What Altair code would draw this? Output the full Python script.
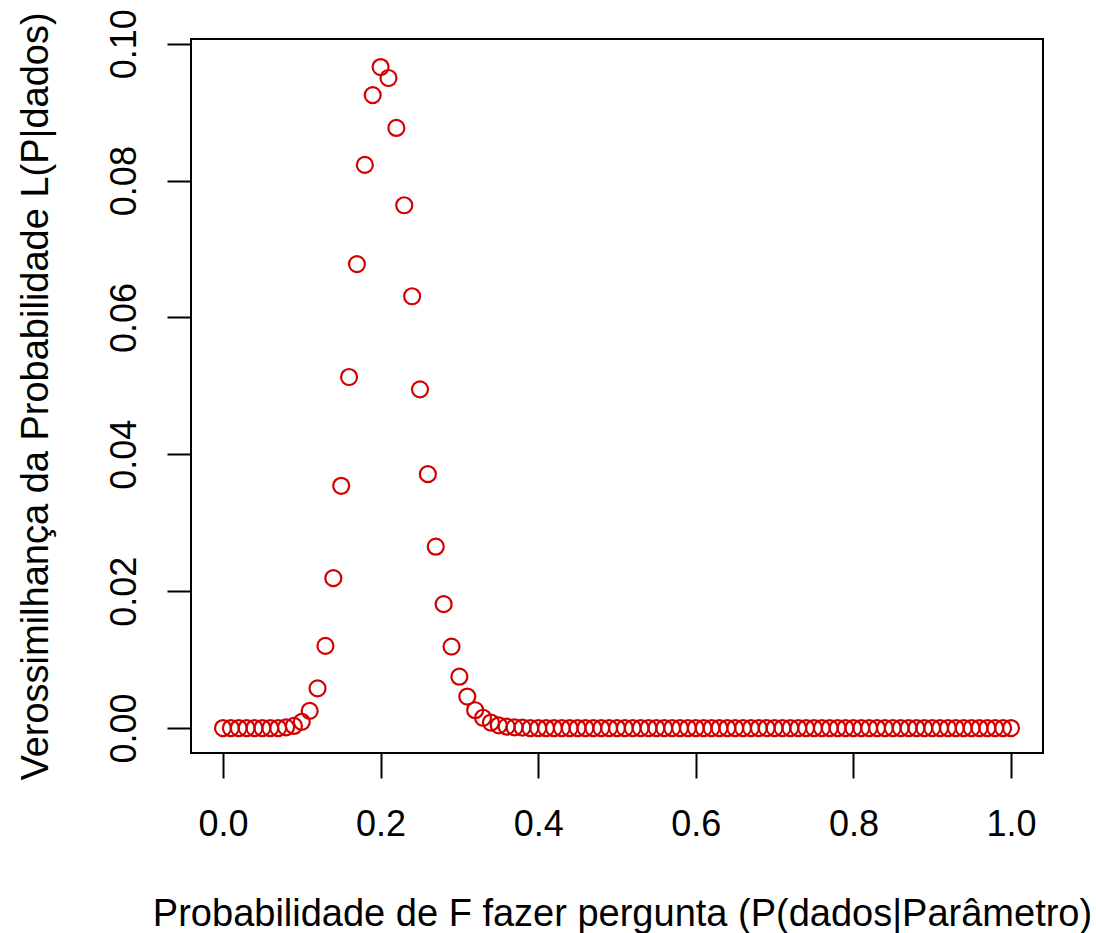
import altair as alt
import pandas as pd

# Parameter grid (x) and likelihood values (y)
p_values = [
    0.00, 0.01, 0.02, 0.03, 0.04, 0.05, 0.06, 0.07, 0.08, 0.09,
    0.10, 0.11, 0.12, 0.13, 0.14, 0.15, 0.16, 0.17, 0.18, 0.19,
    0.20, 0.21, 0.22, 0.23, 0.24, 0.25, 0.26, 0.27, 0.28, 0.29,
    0.30, 0.31, 0.32, 0.33, 0.34, 0.35, 0.36, 0.37, 0.38, 0.39,
    0.40, 0.41, 0.42, 0.43, 0.44, 0.45, 0.46, 0.47, 0.48, 0.49,
    0.50, 0.51, 0.52, 0.53, 0.54, 0.55, 0.56, 0.57, 0.58, 0.59,
    0.60, 0.61, 0.62, 0.63, 0.64, 0.65, 0.66, 0.67, 0.68, 0.69,
    0.70, 0.71, 0.72, 0.73, 0.74, 0.75, 0.76, 0.77, 0.78, 0.79,
    0.80, 0.81, 0.82, 0.83, 0.84, 0.85, 0.86, 0.87, 0.88, 0.89,
    0.90, 0.91, 0.92, 0.93, 0.94, 0.95, 0.96, 0.97, 0.98, 0.99,
    1.00,
]
likelihood = [
    0.0, 0.0, 0.0, 0.0, 0.0, 0.0, 0.0, 0.0, 0.0001, 0.0003,
    0.0009, 0.0025, 0.0058, 0.0120, 0.0219, 0.0354, 0.0513, 0.0678, 0.0823, 0.0925,
    0.0966, 0.0950, 0.0877, 0.0764, 0.0631, 0.0495, 0.0371, 0.0265, 0.0181, 0.0119,
    0.0075, 0.0046, 0.0026, 0.0015, 0.0008, 0.0004, 0.0002, 0.0001, 0.00005, 0.0,
    0.0, 0.0, 0.0, 0.0, 0.0, 0.0, 0.0, 0.0, 0.0, 0.0,
    0.0, 0.0, 0.0, 0.0, 0.0, 0.0, 0.0, 0.0, 0.0, 0.0,
    0.0, 0.0, 0.0, 0.0, 0.0, 0.0, 0.0, 0.0, 0.0, 0.0,
    0.0, 0.0, 0.0, 0.0, 0.0, 0.0, 0.0, 0.0, 0.0, 0.0,
    0.0, 0.0, 0.0, 0.0, 0.0, 0.0, 0.0, 0.0, 0.0, 0.0,
    0.0, 0.0, 0.0, 0.0, 0.0, 0.0, 0.0, 0.0, 0.0, 0.0,
    0.0,
]
x_ticks = [0.0, 0.2, 0.4, 0.6, 0.8, 1.0]
y_ticks = [0.00, 0.02, 0.04, 0.06, 0.08, 0.10]

x_title = "Probabilidade de F fazer pergunta (P(dados|Parâmetro)"
y_title = "Verossimilhança da Probabilidade L(P|dados)"

df = pd.DataFrame({"p": p_values, "L": likelihood})

FONT = "Liberation Sans"
W, H = 852, 714

chart = (
    alt.Chart(df)
    .mark_point(shape="circle", filled=False, color="#d40000", size=256, strokeWidth=2.2, opacity=1)
    .encode(
        x=alt.X(
            "p:Q",
            scale=alt.Scale(domain=[-0.0406, 1.0406], nice=False, zero=False),
            axis=alt.Axis(
                values=x_ticks,
                format=".1f",
                title=x_title,
                grid=False,
                domain=False,
                ticks=True,
                tickSize=25,
                tickWidth=2,
                tickColor="black",
                labelFont=FONT,
                labelFontSize=36,
                labelColor="black",
                labelPadding=29,
                labelBaseline="top",
                labelFlush=False,
                labelOverlap=False,
                titleFont=FONT,
                titleFontSize=38,
                titleFontWeight="normal",
                titleColor="black",
                titleBaseline="alphabetic",
                titleAlign="center",
                titleX=W / 2 + 5,
                titleY=172,
            ),
        ),
        y=alt.Y(
            "L:Q",
            scale=alt.Scale(domain=[-0.00365, 0.1007], nice=False, zero=False),
            axis=alt.Axis(
                values=y_ticks,
                format=".2f",
                title=y_title,
                grid=False,
                domain=False,
                ticks=True,
                tickSize=24,
                tickWidth=2,
                tickColor="black",
                labelFont=FONT,
                labelFontSize=36,
                labelColor="black",
                labelAngle=270,
                labelAlign="center",
                labelBaseline="bottom",
                labelPadding=24,
                labelFlush=False,
                labelOverlap=False,
                titleFont=FONT,
                titleFontSize=38,
                titleFontWeight="normal",
                titleColor="black",
                titleAngle=270,
                titleAlign="center",
                titleBaseline="alphabetic",
                titleX=-144,
                titleY=H / 2,
            ),
        ),
    )
    .properties(
        width=W,
        height=H,
        autosize=alt.AutoSizeParams(type="none"),
        padding={"left": 191, "top": 39, "right": 53, "bottom": 180},
        background="white",
    )
    .configure_view(stroke="black", strokeWidth=2)
)

chart.save("out.html", embed_options={"renderer": "svg", "actions": False})
